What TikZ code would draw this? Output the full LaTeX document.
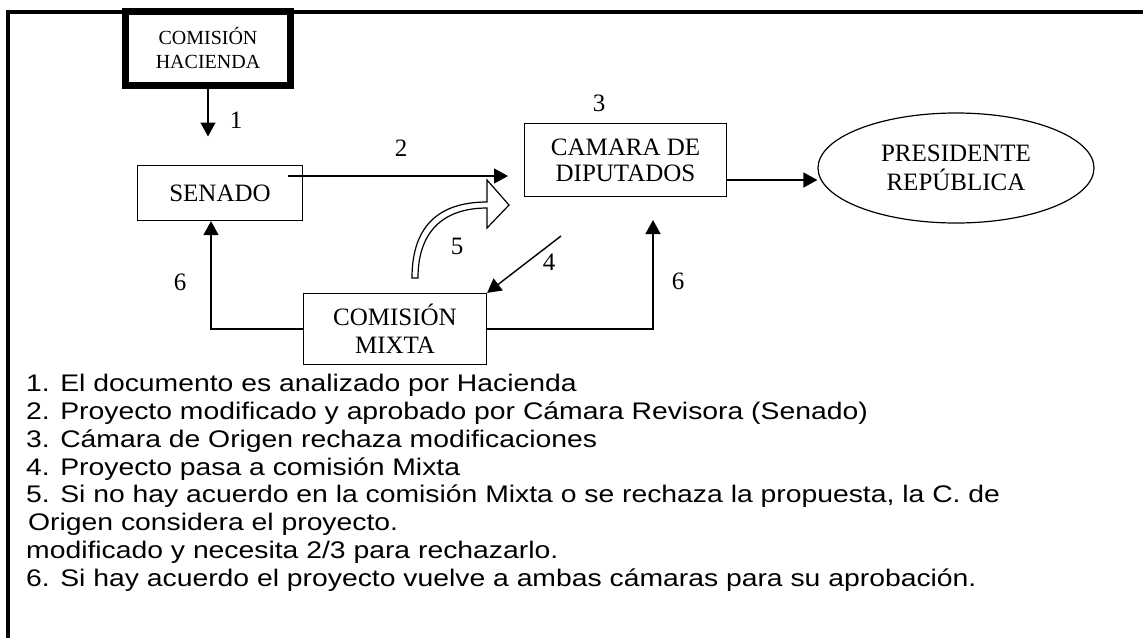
\documentclass[tikz,border=0pt]{standalone}
\usepackage{fontspec}
\setmainfont{Liberation Serif}
\newfontfamily\arialfont[FakeStretch=1.18]{Liberation Sans}
\usetikzlibrary{arrows.meta,shapes.geometric,calc}

\begin{document}
\begin{tikzpicture}[x=1pt,y=-1pt,
  box/.style={draw,line width=1.2pt,inner sep=0pt,align=center,font=\fontsize{25}{28}\selectfont},
  arr/.style={line width=1.4pt,-{Triangle[length=14pt,width=15pt]}},
  num/.style={font=\fontsize{25}{27}\selectfont,inner sep=0pt},
  item/.style={anchor=base west,inner sep=0pt,font=\arialfont\fontsize{24}{28}\selectfont}]
\useasboundingbox (0,0) rectangle (1143,638);
% frame
\draw[line width=3.5pt] (8,638) -- (8,12) -- (1143,12);
% boxes
\node[box,fill=white,line width=7pt,minimum width=165pt,minimum height=74pt,
  font=\fontsize{20}{24}\selectfont] (hacienda) at (208,48) {COMISIÓN\\HACIENDA};
\node[box,minimum width=165pt,minimum height=55pt] (senado) at (220,193) {SENADO};
\node[box,minimum width=202pt,minimum height=73pt,font=\fontsize{25}{26}\selectfont] (camara) at (625.5,160) {CAMARA DE\\DIPUTADOS};
\node[box,ellipse,minimum width=276pt,minimum height=110pt,font=\fontsize{25}{29}\selectfont] (presidente) at (956,168) {PRESIDENTE\\REPÚBLICA};
\node[box,minimum width=183pt,minimum height=71pt] (mixta) at (395,329) {COMISIÓN\\MIXTA};
% free ends
\coordinate (c2a) at (288,176);
\coordinate (c2b) at (508,176);
\coordinate (c4) at (561,236);
\coordinate (c6) at (653,220);
% arrows
\draw[arr] (hacienda.south) -- ++(0,48);
\draw[arr] (c2a) -- (c2b);
\draw[arr] (camara.east |- 0,180) -- (presidente.west |- 0,180);
\draw[arr] (c4) -- (mixta.north east);
\draw[arr] (mixta.east) -| (c6);
\draw[arr] (mixta.west) -| ([xshift=-9pt]senado.south);
% hollow arrow 5
\draw[line width=1.2pt,fill=white,line join=miter]
  (412,278) .. controls (412,222) and (443,202) .. (487,202)
  -- (487,180) -- (509,205) -- (487,228) -- (487,208)
  .. controls (447,208) and (418,228) .. (418,278) -- cycle;
% labels
\node[num] (n1) at (236,120) {1};
\node[num] (n2) at (401,148) {2};
\node[num] (n3) at (599,103) {3};
\node[num] (n4) at (549,262) {4};
\node[num] (n5) at (457,246) {5};
\node[num] (n6a) at (180,282) {6};
\node[num] (n6b) at (678,281) {6};
% list
\node[item] (l1) at (26,391) {1. El documento es analizado por Hacienda};
\node[item] (l2) at (26,419) {2. Proyecto modificado y aprobado por Cámara Revisora (Senado)};
\node[item] (l3) at (26,447) {3. Cámara de Origen rechaza modificaciones};
\node[item] (l4) at (26,475) {4. Proyecto pasa a comisión Mixta};
\node[item] (l5) at (26,502) {5. Si no hay acuerdo en la comisión Mixta o se rechaza la propuesta, la C. de};
\node[item] (l6) at (28,530) {Origen considera el proyecto.};
\node[item] (l7) at (26,558) {modificado y necesita 2/3 para rechazarlo.};
\node[item] (l8) at (26,586) {6. Si hay acuerdo el proyecto vuelve a ambas cámaras para su aprobación.};
\end{tikzpicture}
\end{document}
